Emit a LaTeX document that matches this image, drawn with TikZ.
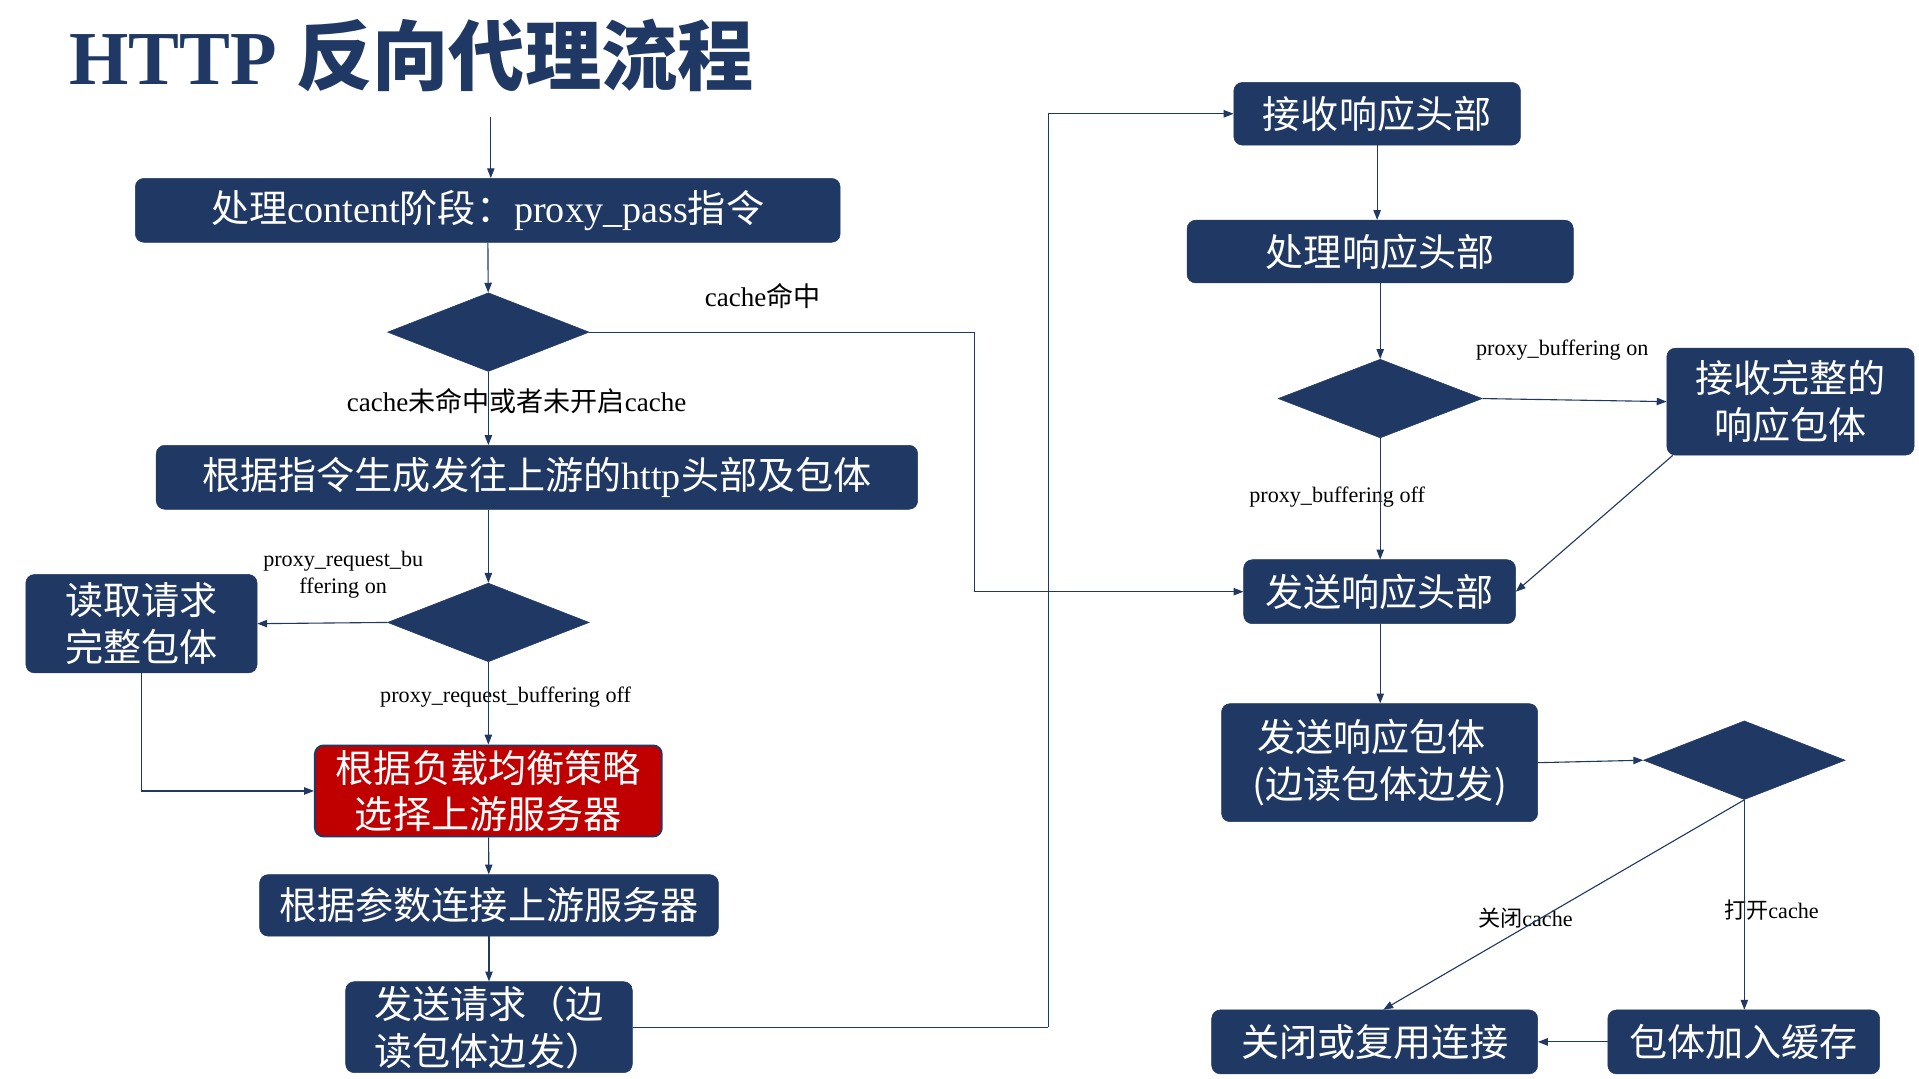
\documentclass[tikz,border=0pt]{standalone}
\usepackage{fontspec}
\setmainfont{Liberation Serif}
\newfontfamily\cjk{Noto Sans CJK SC}
\newfontfamily\cjkb{Noto Sans CJK SC Bold}
\usetikzlibrary{shapes.geometric,arrows.meta}
\definecolor{navy}{HTML}{203864}
\definecolor{ared}{HTML}{C00000}
\tikzset{
 box/.style={draw=navy,fill=navy,rounded corners=7pt,text=white,align=center,inner sep=0pt,font=\fontsize{31}{37}\selectfont\cjk},
 dia/.style={diamond,fill=navy,draw=navy,inner sep=0pt,minimum width=164pt,minimum height=64pt},
 arr/.style={draw=navy,line width=0.9pt,-{Triangle[length=8pt,width=6pt]}},
 ln/.style={draw=navy,line width=0.9pt},
 lab/.style={font=\fontsize{20}{22}\selectfont,text=black,align=center,inner sep=1pt}
}
\begin{document}
\begin{tikzpicture}[x=1pt,y=-1pt]
\useasboundingbox[fill=white] (0,0) rectangle (1560,877);
\node[anchor=west,text=navy,font=\fontsize{62}{68}\selectfont\bfseries] (title) at (53,45) {HTTP {\cjkb 反向代理流程}};
\node[box,minimum width=573pt,minimum height=52pt] (B1) at (396.5,171) {处理{\rmfamily content}阶段：{\rmfamily proxy\_pass}指令};
\node[dia] (D1) at (397,270) {};
\node[box,minimum width=619pt,minimum height=52pt] (B2) at (436.5,388) {根据指令生成发往上游的{\rmfamily http}头部及包体};
\node[dia] (D2) at (397,506) {};
\node[box,minimum width=188pt,minimum height=80pt,font=\fontsize{31}{38}\selectfont\cjk] (B3) at (115,507) {读取请求\\完整包体};
\node[box,fill=ared,line width=1.5pt,minimum width=282pt,minimum height=74pt,font=\fontsize{31}{38}\selectfont\cjk] (B4) at (397,643) {根据负载均衡策略\\选择上游服务器};
\node[box,minimum width=373pt,minimum height=50pt] (B5) at (397.5,736) {根据参数连接上游服务器};
\node[box,minimum width=233pt,minimum height=74pt,font=\fontsize{31}{38}\selectfont\cjk] (B6) at (397.5,835) {发送请求（边\\读包体边发）};
\node[box,minimum width=233pt,minimum height=51pt] (B7) at (1119.5,92.5) {接收响应头部};
\node[box,minimum width=314pt,minimum height=51pt] (B8) at (1122,204.5) {处理响应头部};
\node[dia,minimum width=166pt] (D3) at (1122,324) {};
\node[box,minimum width=201pt,minimum height=87pt,font=\fontsize{31}{38}\selectfont\cjk] (B9) at (1455.5,326.5) {接收完整的\\响应包体};
\node[box,minimum width=221pt,minimum height=52pt] (B10) at (1121.5,481) {发送响应头部};
\node[box,minimum width=257pt,minimum height=96pt,align=left,font=\fontsize{31}{38}\selectfont\cjk] (B11) at (1121.5,620) {\hspace*{4pt}发送响应包体\\(边读包体边发)};
\node[dia] (D4) at (1418,618) {};
\node[box,minimum width=265pt,minimum height=52pt] (B12) at (1117.5,847) {关闭或复用连接};
\node[box,minimum width=221pt,minimum height=52pt] (B13) at (1417.5,847) {包体加入缓存};
% labels
\node[lab,font=\fontsize{22}{24}\selectfont] (L1) at (620,241) {cache{\cjk 命中}};
\node[lab,font=\fontsize{22}{24}\selectfont] (L2) at (420,326) {cache{\cjk 未命中或者未开启}cache};
\node[lab,font=\fontsize{18}{22}\selectfont] (L3) at (279,467) {proxy\_request\_bu\\ffering on};
\node[lab,font=\fontsize{18}{20}\selectfont] (L4) at (411,567) {proxy\_request\_buffering off};
\node[lab,font=\fontsize{18}{20}\selectfont] (L5) at (1270,285) {proxy\_buffering on};
\node[lab,font=\fontsize{18}{20}\selectfont] (L6) at (1087,404) {proxy\_buffering off};
\node[lab,font=\fontsize{18}{20}\selectfont] (L7) at (1240,746) {{\cjk 关闭}cache};
\node[lab,font=\fontsize{18}{20}\selectfont] (L8) at (1440,740) {{\cjk 打开}cache};
% connectors
\coordinate (start) at (399,95);
\coordinate (c1) at (792,270);
\coordinate (c2) at (852,835);
\draw[arr] (start) -- (B1.north -| start);
\draw[arr] (B1) -- (D1);
\draw[arr] (D1.south) -- (B2.north -| D1.south);
\draw[ln] (D1.east) -- (c1);
\draw[arr] (c1) |- (B10.west);
\draw[arr] (B2.south -| D2.north) -- (D2.north);
\draw[arr] (D2.west) -- (B3.east);
\draw[arr] (D2.south) -- (B4.north);
\draw[arr] (B3.south) |- (B4.west);
\draw[arr] (B4) -- (B5);
\draw[arr] (B5) -- (B6);
\draw[ln] (B6.east) -- (c2);
\draw[arr] (c2) |- (B7.west);
\draw[arr] (B7) -- (B8.north -| B7.south);
\draw[arr] (B8.south -| D3.north) -- (D3.north);
\draw[arr] (D3.east) -- (B9.west);
\draw[arr] (D3.south) -- (B10.north -| D3.south);
\draw[arr] ([xshift=5pt]B9.south west) -- (B10.east);
\draw[arr] (B10.south -| 1122,0) -- (B11.north -| 1122,0);
\draw[arr] (B11.east) -- (D4.west);
\draw[arr] (D4.south) -- ([xshift=7pt]B12.north);
\draw[arr] (D4.south) -- (B13.north -| D4.south);
\draw[arr] (B13.west) -- (B12.east);
\end{tikzpicture}
\end{document}
